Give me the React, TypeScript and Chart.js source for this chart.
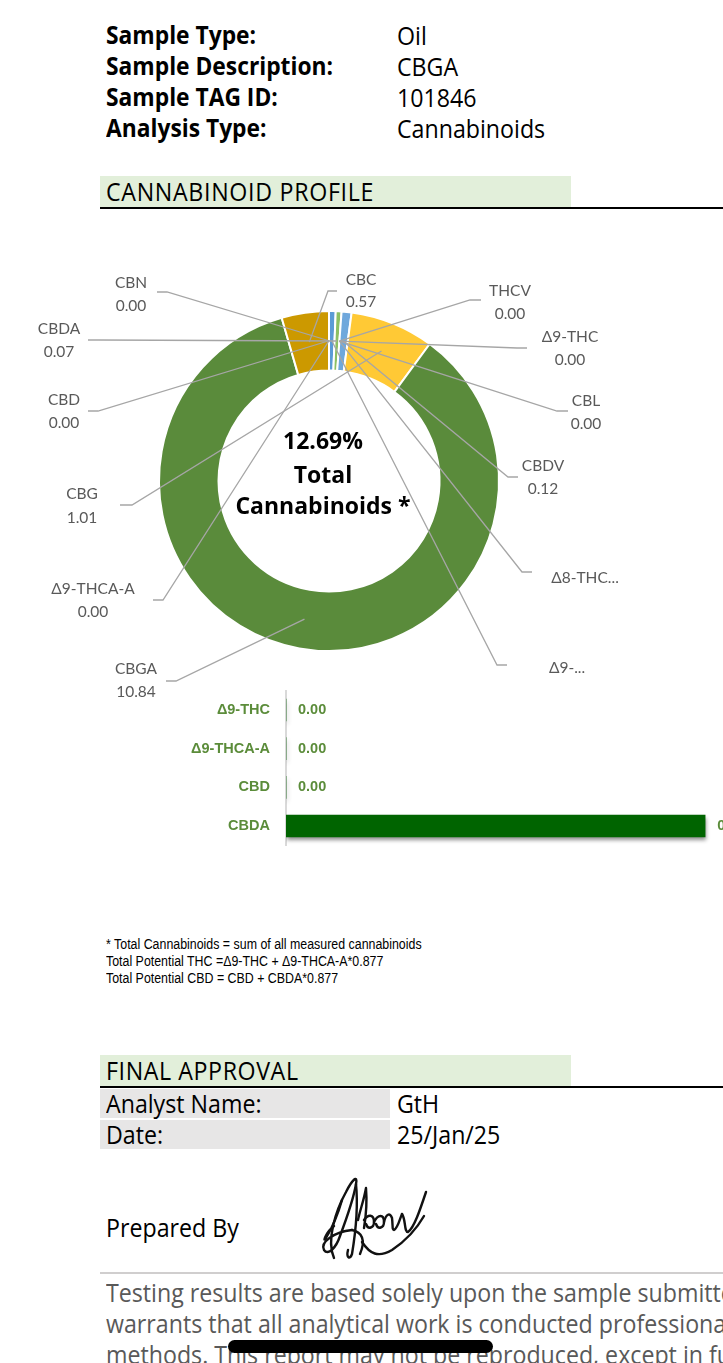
import React, { useEffect, useRef } from 'react';
import { Chart, registerables } from 'chart.js';
Chart.register(...registerables);

// ---------- DATA ----------
const donutLabels = ['CBN', 'Δ9-THCA-A', 'CBD', 'Δ9-...', 'CBDA', 'THCV', 'Δ9-THC', 'CBL', 'Δ8-THC...', 'CBDV', 'CBG', 'CBGA', 'CBC'];
const donutValues = [0, 0, 0, 0.08, 0.07, 0, 0, 0, 0, 0.12, 1.01, 10.84, 0.57];
const donutShowValue = [true, true, true, false, true, true, true, true, false, true, true, true, true];
const totalCannabinoids = '12.69%';

const barLabels = ['Δ9-THC', 'Δ9-THCA-A', 'CBD', 'CBDA'];
const barValues = [0, 0, 0, 0.07];

const sampleFields = ['Sample Type:', 'Sample Description:', 'Sample TAG ID:', 'Analysis Type:'];
const sampleValues = ['Oil', 'CBGA', '101846', 'Cannabinoids'];

const footnotes = [
  '* Total Cannabinoids = sum of all measured cannabinoids',
  'Total Potential THC =Δ9-THC + Δ9-THCA-A*0.877',
  'Total Potential CBD = CBD + CBDA*0.877',
];

const approvalFields = ['Analyst Name:', 'Date:'];
const approvalValues = ['GtH', '25/Jan/25'];

const disclaimerLines = [
  'Testing results are based solely upon the sample submitted to the laboratory, in the',
  'warrants that all analytical work is conducted professionally in accordance with all',
  'methods. This report may not be reproduced, except in full, without written approval',
];

// ---------- STYLES / LAYOUT ----------
const segColors: Record<string, string> = {
  'CBN': '#5B9BD5', 'Δ9-THCA-A': '#5B9BD5', 'CBD': '#5B9BD5', 'Δ9-...': '#5B9BD5',
  'CBDA': '#8CC063', 'THCV': '#6FA8DC', 'Δ9-THC': '#6FA8DC', 'CBL': '#6FA8DC',
  'Δ8-THC...': '#6FA8DC', 'CBDV': '#6FA8DC', 'CBG': '#FFC935', 'CBGA': '#5A8B3B', 'CBC': '#CC9900',
};

const DONUT_TOP = 220;
// page coordinates: text centre x, name line y, value line y, line start, elbow
const labelLayout: Record<string, { cx: number; y1: number; y2: number; sx: number; sy: number; ex: number; ey: number }> = {
  'CBN': { cx: 131, y1: 283, y2: 306, sx: 157, sy: 292, ex: 167, ey: 292 },
  'CBDA': { cx: 59, y1: 329, y2: 352, sx: 88, sy: 340, ex: 98, ey: 340 },
  'CBD': { cx: 64, y1: 400, y2: 423, sx: 88, sy: 411, ex: 98, ey: 411 },
  'CBG': { cx: 82, y1: 494, y2: 518, sx: 120, sy: 505, ex: 132, ey: 505 },
  'Δ9-THCA-A': { cx: 93, y1: 589, y2: 612, sx: 153, sy: 600, ex: 163, ey: 600 },
  'CBGA': { cx: 136, y1: 669, y2: 692, sx: 166, sy: 681, ex: 176, ey: 681 },
  'CBC': { cx: 361, y1: 280, y2: 302, sx: 337, sy: 291, ex: 328, ey: 291 },
  'THCV': { cx: 510, y1: 291, y2: 314, sx: 481, sy: 300, ex: 470, ey: 300 },
  'Δ9-THC': { cx: 570, y1: 337, y2: 360, sx: 527, sy: 348, ex: 517, ey: 348 },
  'CBL': { cx: 586, y1: 401, y2: 424, sx: 568, sy: 411, ex: 557, ey: 411 },
  'CBDV': { cx: 543, y1: 466, y2: 489, sx: 518, sy: 477, ex: 508, ey: 477 },
  'Δ8-THC...': { cx: 585, y1: 578, y2: 578, sx: 532, sy: 572, ex: 522, ey: 572 },
  'Δ9-...': { cx: 567, y1: 668, y2: 668, sx: 507, sy: 665, ex: 497, ey: 665 },
};

const LABEL_FONT = 'Lato, "Open Sans", sans-serif';
const TEXT_FONT = '"Open Sans", Lato, sans-serif';

const donutPlugin = {
  id: 'donutDecor',
  afterDatasetsDraw(chart: any) {
    const ctx = chart.ctx as CanvasRenderingContext2D;
    const meta = chart.getDatasetMeta(0);
    ctx.save();
    meta.data.forEach((arc: any, i: number) => {
      const name = donutLabels[i];
      const lay = labelLayout[name];
      if (!lay) return;
      const p = arc.getProps(['x', 'y', 'startAngle', 'endAngle', 'innerRadius', 'outerRadius'], true);
      const a = (p.startAngle + p.endAngle) / 2;
      const r = (p.innerRadius + p.outerRadius) / 2;
      const ax = p.x + Math.cos(a) * r;
      const ay = p.y + Math.sin(a) * r;
      ctx.strokeStyle = '#A6A6A6';
      ctx.lineWidth = 1.3;
      ctx.beginPath();
      ctx.moveTo(lay.sx, lay.sy - DONUT_TOP);
      ctx.lineTo(lay.ex, lay.ey - DONUT_TOP);
      ctx.lineTo(ax, ay);
      ctx.stroke();
      ctx.fillStyle = '#595959';
      ctx.font = '15.5px ' + LABEL_FONT;
      ctx.textAlign = 'center';
      ctx.textBaseline = 'middle';
      ctx.fillText(name, lay.cx, lay.y1 - DONUT_TOP);
      if (donutShowValue[i]) {
        ctx.fillText(donutValues[i].toFixed(2), lay.cx, lay.y2 - DONUT_TOP);
      }
    });
    // centre text
    ctx.fillStyle = '#000000';
    ctx.font = 'bold 23px ' + TEXT_FONT;
    ctx.textAlign = 'center';
    ctx.textBaseline = 'middle';
    const cx = 323;
    ctx.fillText(totalCannabinoids, cx, 442 - DONUT_TOP);
    ctx.fillText('Total', cx, 476 - DONUT_TOP);
    ctx.fillText('Cannabinoids *', cx, 507 - DONUT_TOP);
    ctx.restore();
  },
};

const barPlugin = {
  id: 'barDecor',
  beforeDatasetDraw(chart: any) {
    const ctx = chart.ctx as CanvasRenderingContext2D;
    ctx.save();
    ctx.shadowColor = 'rgba(0,0,0,0.45)';
    ctx.shadowBlur = 4;
    ctx.shadowOffsetX = 1;
    ctx.shadowOffsetY = 3;
  },
  afterDatasetDraw(chart: any) {
    chart.ctx.restore();
  },
  afterDatasetsDraw(chart: any) {
    const ctx = chart.ctx as CanvasRenderingContext2D;
    const meta = chart.getDatasetMeta(0);
    ctx.save();
    ctx.fillStyle = '#5B8C3A';
    ctx.font = 'bold 14.5px "Liberation Sans", Arial, sans-serif';
    ctx.textAlign = 'left';
    ctx.textBaseline = 'middle';
    meta.data.forEach((bar: any, i: number) => {
      ctx.fillText(barValues[i].toFixed(2), bar.x + 12, bar.y);
    });
    ctx.restore();
  },
};

function DonutChart() {
  const ref = useRef<HTMLCanvasElement>(null);
  useEffect(() => {
    const chart = new Chart(ref.current!, {
      type: 'doughnut',
      data: {
        labels: donutLabels,
        datasets: [{
          data: donutValues,
          backgroundColor: donutLabels.map((l) => segColors[l]),
          borderColor: '#ffffff',
          borderWidth: 2,
          radius: 170,
        } as any],
      },
      options: {
        responsive: false,
        animation: false,
        cutout: '65%',
        layout: { padding: { left: 100, right: 165, top: 62, bottom: 20 } },
        plugins: { legend: { display: false }, tooltip: { enabled: false } },
      } as any,
      plugins: [donutPlugin],
    });
    return () => chart.destroy();
  }, []);
  return <canvas ref={ref} width={723} height={480} style={{ position: 'absolute', left: 0, top: DONUT_TOP, width: 723, height: 480 }} />;
}

function BarChart() {
  const ref = useRef<HTMLCanvasElement>(null);
  useEffect(() => {
    const chart = new Chart(ref.current!, {
      type: 'bar',
      data: {
        labels: barLabels,
        datasets: [{ data: barValues, backgroundColor: '#006400', borderWidth: 0, barThickness: 22 }],
      },
      options: {
        indexAxis: 'y',
        responsive: false,
        animation: false,
        layout: { padding: { left: 0, right: 35, top: 0, bottom: 0 } },
        plugins: { legend: { display: false }, tooltip: { enabled: false } },
        scales: {
          x: { display: false, min: 0, max: 0.08 },
          y: {
            grid: { display: false, drawTicks: false },
            border: { display: true, color: '#D9D9D9', width: 2 },
            ticks: { color: '#5B8C3A', font: { family: '"Liberation Sans", Arial, sans-serif', weight: 'bold', size: 14.5 }, padding: 16 },
            afterFit: (s: any) => { s.width = 106; },
          },
        },
      } as any,
      plugins: [barPlugin],
    });
    return () => chart.destroy();
  }, []);
  return <canvas ref={ref} width={620} height={204} style={{ position: 'absolute', left: 180, top: 666, width: 620, height: 204 }} />;
}

const T = (props: { x: number; y: number; children: any; style?: any }) => (
  <div style={{ position: 'absolute', left: props.x, top: props.y, whiteSpace: 'nowrap', lineHeight: '30px', fontFamily: TEXT_FONT, fontSize: 23.2, transform: 'scaleY(1.08)', transformOrigin: 'left center', ...(props.style || {}) }}>
    {props.children}
  </div>
);

function Signature() {
  return (
    <svg width={130} height={95} viewBox="0 0 130 95" style={{ position: 'absolute', left: 312, top: 1170 }}>
      <g fill="none" stroke="#111" strokeWidth={2.4} strokeLinecap="round" strokeLinejoin="round">
        <path d="M22 88 C14 70 24 40 34 22 C40 10 46 4 44 14 C42 26 34 50 28 66 C24 78 16 86 12 80 C8 72 22 62 40 60" />
        <path d="M30 30 C26 44 20 58 14 68 C10 74 14 62 22 56" />
        <path d="M44 14 C46 34 44 60 40 84 C38 90 34 88 36 80" />
        <path d="M46 50 C48 40 52 30 54 18 C55 30 54 46 52 58" />
        <path d="M52 50 C56 44 62 44 62 52 C62 58 56 60 54 54" />
        <path d="M62 52 C66 44 72 44 72 52 C72 58 66 60 64 54" />
        <path d="M72 52 C74 44 78 42 80 48 C81 56 80 60 82 60 C86 58 88 48 90 44" />
        <path d="M90 44 C94 50 92 62 96 62 C102 58 108 40 114 22" />
        <path d="M50 72 C58 84 66 88 80 80 C92 72 104 60 112 46" />
        <path d="M40 60 C50 62 54 70 48 84" />
      </g>
    </svg>
  );
}

export default function App() {
  return (
    <div style={{ position: 'absolute', left: 0, top: 0, width: 723, height: 1363, overflow: 'hidden', background: '#fff', color: '#000' }}>
      {sampleFields.map((f, i) => (
        <T key={'f' + i} x={106} y={20 + i * 31} style={{ fontWeight: 'bold', fontSize: 22.8 }}>{f}</T>
      ))}
      {sampleValues.map((v, i) => (
        <T key={'v' + i} x={397} y={20 + i * 31}>{v}</T>
      ))}

      <div style={{ position: 'absolute', left: 100, top: 176, width: 471, height: 31, background: '#E2EFDA' }} />
      <div style={{ position: 'absolute', left: 100, top: 207, width: 623, height: 2, background: '#000' }} />
      <T x={106} y={176} style={{ letterSpacing: 0.7 }}>CANNABINOID PROFILE</T>

      <DonutChart />
      <BarChart />

      {footnotes.map((t, i) => (
        <div key={'n' + i} style={{ position: 'absolute', left: 106, top: 936 + i * 17, fontFamily: '"Liberation Sans", Arial, sans-serif', fontSize: 12.4, lineHeight: '16px', whiteSpace: 'nowrap', transform: 'scaleY(1.12)', transformOrigin: 'left top' }}>{t}</div>
      ))}

      <div style={{ position: 'absolute', left: 100, top: 1055, width: 471, height: 31, background: '#E2EFDA' }} />
      <div style={{ position: 'absolute', left: 100, top: 1086, width: 623, height: 2, background: '#000' }} />
      <T x={106} y={1055} style={{ letterSpacing: 0.6 }}>FINAL APPROVAL</T>
      {approvalFields.map((f, i) => (
        <div key={'ab' + i} style={{ position: 'absolute', left: 100, top: 1089 + i * 31, width: 290, height: 29, background: '#E7E6E6' }} />
      ))}
      {approvalFields.map((f, i) => (
        <T key={'af' + i} x={106} y={1088 + i * 31}>{f}</T>
      ))}
      {approvalValues.map((v, i) => (
        <T key={'av' + i} x={397} y={1088 + i * 31}>{v}</T>
      ))}

      <T x={106} y={1212}>Prepared By</T>
      <Signature />

      <div style={{ position: 'absolute', left: 100, top: 1272, width: 623, height: 2, background: '#D0CECE' }} />
      {disclaimerLines.map((t, i) => (
        <T key={'d' + i} x={106} y={1277 + i * 31} style={{ color: '#595959' }}>{t}</T>
      ))}
      <div style={{ position: 'absolute', left: 228, top: 1340, width: 265, height: 13, borderRadius: 7, background: '#000' }} />
    </div>
  );
}
